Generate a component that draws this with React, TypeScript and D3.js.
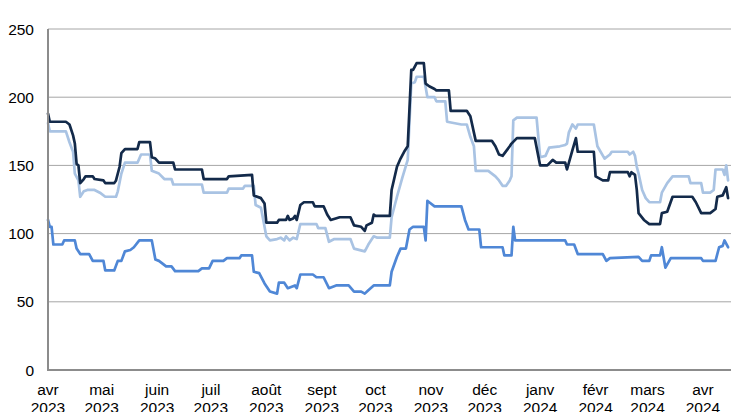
import { useEffect, useRef } from 'react';
import * as d3 from 'd3';

type Pt = [string, number];

// x-axis ticks (first of each month)
const monthLabels = ['avr', 'mai', 'juin', 'juil', 'août', 'sept', 'oct', 'nov', 'déc', 'janv', 'févr', 'mars', 'avr'];
const yearLabels = ['2023', '2023', '2023', '2023', '2023', '2023', '2023', '2023', '2023', '2024', '2024', '2024', '2024'];
const yTicks = [0, 50, 100, 150, 200, 250];

const seriesDark: Pt[] = [
  ['2023-04-01', 188], ['2023-04-02', 182], ['2023-04-11', 182], ['2023-04-13', 180], ['2023-04-15', 172],
  ['2023-04-16', 166], ['2023-04-17', 151], ['2023-04-18', 150], ['2023-04-19', 137], ['2023-04-21', 140],
  ['2023-04-22', 142], ['2023-04-26', 142], ['2023-04-27', 140], ['2023-05-02', 139], ['2023-05-03', 137],
  ['2023-05-08', 137], ['2023-05-09', 139], ['2023-05-11', 149], ['2023-05-12', 159], ['2023-05-14', 162],
  ['2023-05-21', 162], ['2023-05-22', 167], ['2023-05-28', 167], ['2023-05-29', 156], ['2023-05-31', 155],
  ['2023-06-02', 152], ['2023-06-10', 152], ['2023-06-11', 147], ['2023-06-26', 147], ['2023-06-27', 140],
  ['2023-07-10', 140], ['2023-07-11', 142], ['2023-07-24', 143], ['2023-07-25', 128], ['2023-07-29', 126],
  ['2023-07-31', 122], ['2023-08-01', 108], ['2023-08-07', 108], ['2023-08-08', 110], ['2023-08-12', 110],
  ['2023-08-13', 113], ['2023-08-14', 110], ['2023-08-16', 111], ['2023-08-17', 113], ['2023-08-18', 110],
  ['2023-08-20', 121], ['2023-08-22', 123], ['2023-08-27', 123], ['2023-08-28', 120], ['2023-09-02', 120],
  ['2023-09-04', 114], ['2023-09-06', 110], ['2023-09-11', 112], ['2023-09-17', 112], ['2023-09-19', 106],
  ['2023-09-23', 105], ['2023-09-25', 102], ['2023-09-26', 106], ['2023-09-29', 108], ['2023-09-30', 114],
  ['2023-10-01', 113], ['2023-10-09', 113], ['2023-10-10', 132], ['2023-10-13', 149], ['2023-10-15', 155],
  ['2023-10-17', 160], ['2023-10-19', 164], ['2023-10-21', 220], ['2023-10-22', 220], ['2023-10-24', 225],
  ['2023-10-28', 225], ['2023-10-29', 210], ['2023-10-31', 208], ['2023-11-03', 206], ['2023-11-04', 205],
  ['2023-11-11', 205], ['2023-11-12', 190], ['2023-11-21', 190], ['2023-11-23', 186], ['2023-11-26', 168],
  ['2023-12-05', 168], ['2023-12-07', 164], ['2023-12-09', 158], ['2023-12-11', 157], ['2023-12-15', 164],
  ['2023-12-16', 166], ['2023-12-19', 170], ['2023-12-29', 170], ['2024-01-01', 150], ['2024-01-05', 150],
  ['2024-01-08', 154], ['2024-01-10', 152], ['2024-01-15', 152], ['2024-01-16', 147], ['2024-01-19', 161],
  ['2024-01-21', 170], ['2024-01-22', 160], ['2024-01-31', 160], ['2024-02-01', 142], ['2024-02-05', 139],
  ['2024-02-08', 139], ['2024-02-09', 145], ['2024-02-19', 145], ['2024-02-20', 142], ['2024-02-21', 145],
  ['2024-02-23', 143], ['2024-02-24', 132], ['2024-02-25', 115], ['2024-02-28', 110], ['2024-03-02', 107],
  ['2024-03-08', 107], ['2024-03-09', 115], ['2024-03-12', 116], ['2024-03-15', 127], ['2024-03-26', 127],
  ['2024-03-28', 123], ['2024-03-31', 115], ['2024-04-05', 115], ['2024-04-08', 118], ['2024-04-09', 127],
  ['2024-04-12', 128], ['2024-04-14', 134], ['2024-04-15', 126],
];

const seriesLight: Pt[] = [
  ['2023-04-01', 181], ['2023-04-02', 175], ['2023-04-11', 175], ['2023-04-13', 167], ['2023-04-15', 160],
  ['2023-04-16', 144], ['2023-04-18', 139], ['2023-04-19', 127], ['2023-04-21', 131], ['2023-04-23', 132],
  ['2023-04-27', 132], ['2023-04-30', 130], ['2023-05-03', 127], ['2023-05-09', 127], ['2023-05-10', 131],
  ['2023-05-12', 144], ['2023-05-14', 152], ['2023-05-21', 152], ['2023-05-23', 158], ['2023-05-28', 158],
  ['2023-05-29', 146], ['2023-06-02', 144], ['2023-06-05', 140], ['2023-06-09', 140], ['2023-06-10', 136],
  ['2023-06-26', 136], ['2023-06-27', 130], ['2023-07-10', 130], ['2023-07-11', 133], ['2023-07-19', 133],
  ['2023-07-20', 135], ['2023-07-25', 135], ['2023-07-26', 121], ['2023-07-29', 119], ['2023-07-31', 105],
  ['2023-08-01', 98], ['2023-08-03', 95], ['2023-08-07', 96], ['2023-08-09', 97], ['2023-08-11', 95],
  ['2023-08-12', 98], ['2023-08-14', 95], ['2023-08-16', 97], ['2023-08-18', 96], ['2023-08-20', 107],
  ['2023-08-29', 107], ['2023-08-30', 104], ['2023-09-03', 104], ['2023-09-05', 94], ['2023-09-08', 96],
  ['2023-09-17', 96], ['2023-09-19', 89], ['2023-09-25', 87], ['2023-09-27', 92], ['2023-09-30', 98],
  ['2023-10-02', 97], ['2023-10-09', 97], ['2023-10-10', 112], ['2023-10-13', 127], ['2023-10-16', 141],
  ['2023-10-19', 154], ['2023-10-21', 210], ['2023-10-23', 211], ['2023-10-24', 215], ['2023-10-28', 215],
  ['2023-10-30', 200], ['2023-11-03', 200], ['2023-11-04', 197], ['2023-11-09', 197], ['2023-11-10', 182],
  ['2023-11-18', 180], ['2023-11-21', 180], ['2023-11-23', 171], ['2023-11-25', 164], ['2023-11-26', 146],
  ['2023-12-03', 146], ['2023-12-05', 144], ['2023-12-07', 142], ['2023-12-09', 139], ['2023-12-11', 135],
  ['2023-12-13', 135], ['2023-12-15', 139], ['2023-12-16', 142], ['2023-12-17', 183], ['2023-12-19', 185],
  ['2023-12-30', 185], ['2024-01-01', 156], ['2024-01-04', 157], ['2024-01-06', 163], ['2024-01-12', 164],
  ['2024-01-15', 165], ['2024-01-16', 166], ['2024-01-17', 174], ['2024-01-19', 180], ['2024-01-21', 177],
  ['2024-01-22', 180], ['2024-01-31', 180], ['2024-02-02', 164], ['2024-02-06', 155], ['2024-02-09', 158],
  ['2024-02-10', 160], ['2024-02-19', 160], ['2024-02-20', 158], ['2024-02-22', 160], ['2024-02-23', 157],
  ['2024-02-24', 149], ['2024-02-25', 144], ['2024-02-27', 132], ['2024-02-29', 126], ['2024-03-02', 123],
  ['2024-03-08', 123], ['2024-03-09', 130], ['2024-03-12', 137], ['2024-03-15', 142], ['2024-03-24', 142],
  ['2024-03-25', 137], ['2024-03-31', 137], ['2024-04-01', 130], ['2024-04-05', 130], ['2024-04-07', 132],
  ['2024-04-08', 147], ['2024-04-12', 147], ['2024-04-13', 143], ['2024-04-14', 150], ['2024-04-15', 139],
];

const seriesMid: Pt[] = [
  ['2023-04-01', 110], ['2023-04-02', 105], ['2023-04-03', 105], ['2023-04-04', 92], ['2023-04-09', 92],
  ['2023-04-10', 95], ['2023-04-16', 95], ['2023-04-17', 89], ['2023-04-19', 85], ['2023-04-24', 85],
  ['2023-04-26', 80], ['2023-05-02', 80], ['2023-05-03', 73], ['2023-05-08', 73], ['2023-05-10', 80],
  ['2023-05-12', 80], ['2023-05-14', 87], ['2023-05-17', 88], ['2023-05-19', 90], ['2023-05-22', 95],
  ['2023-05-29', 95], ['2023-05-31', 81], ['2023-06-02', 80], ['2023-06-04', 78], ['2023-06-06', 76],
  ['2023-06-09', 76], ['2023-06-11', 72.5], ['2023-06-24', 72.5], ['2023-06-26', 74.5], ['2023-06-30', 74.5],
  ['2023-07-02', 80], ['2023-07-08', 80], ['2023-07-10', 82], ['2023-07-17', 82], ['2023-07-18', 84],
  ['2023-07-24', 84], ['2023-07-25', 72], ['2023-07-28', 71], ['2023-07-31', 63.5], ['2023-08-03', 57.5],
  ['2023-08-07', 56], ['2023-08-08', 64], ['2023-08-11', 64], ['2023-08-13', 60], ['2023-08-17', 62],
  ['2023-08-18', 60], ['2023-08-20', 70], ['2023-08-27', 70], ['2023-08-29', 68], ['2023-09-02', 68],
  ['2023-09-05', 60], ['2023-09-09', 62], ['2023-09-16', 62], ['2023-09-19', 57.5], ['2023-09-23', 57.5],
  ['2023-09-25', 56], ['2023-09-27', 58.5], ['2023-09-30', 62], ['2023-10-09', 62], ['2023-10-10', 72],
  ['2023-10-13', 83], ['2023-10-15', 89], ['2023-10-18', 89], ['2023-10-20', 103], ['2023-10-22', 105],
  ['2023-10-28', 105], ['2023-10-29', 95], ['2023-10-30', 124], ['2023-10-31', 123], ['2023-11-03', 120],
  ['2023-11-18', 120], ['2023-11-20', 110], ['2023-11-22', 103], ['2023-11-28', 103], ['2023-11-29', 90],
  ['2023-12-11', 90], ['2023-12-12', 84], ['2023-12-16', 84], ['2023-12-17', 105], ['2023-12-18', 95],
  ['2024-01-15', 95], ['2024-01-16', 92], ['2024-01-20', 92], ['2024-01-22', 85], ['2024-02-05', 85],
  ['2024-02-07', 80], ['2024-02-09', 82], ['2024-02-25', 83], ['2024-02-27', 80], ['2024-03-02', 80],
  ['2024-03-03', 84], ['2024-03-08', 84], ['2024-03-09', 90], ['2024-03-11', 75], ['2024-03-14', 82],
  ['2024-03-31', 82], ['2024-04-01', 80], ['2024-04-08', 80], ['2024-04-10', 90], ['2024-04-12', 91],
  ['2024-04-13', 95], ['2024-04-15', 90],
];

const lines = [
  { data: seriesLight, color: '#a9c3e3' },
  { data: seriesMid, color: '#4f87d6' },
  { data: seriesDark, color: '#132a4a' },
];

export default function App() {
  const ref = useRef<SVGSVGElement | null>(null);

  useEffect(() => {
    if (!ref.current) return;
    const svg = d3.select(ref.current);
    svg.selectAll('*').remove();

    const width = 731;
    const left = 48;
    const top = 29;
    const bottom = 370;
    const parse = d3.timeParse('%Y-%m-%d');

    const start = parse('2023-04-01') as Date;
    const lastTick = parse('2024-04-01') as Date;
    const x = d3.scaleTime().domain([start, lastTick]).range([left, 703]);
    const y = d3.scaleLinear().domain([0, 250]).range([bottom, top]);

    const font = '"Liberation Sans", Arial, sans-serif';
    const fontSize = 15.5;

    // gridlines
    svg.append('g')
      .selectAll('line')
      .data(yTicks.filter((t) => t > 0))
      .join('line')
      .attr('x1', left)
      .attr('x2', width)
      .attr('y1', (d) => y(d))
      .attr('y2', (d) => y(d))
      .attr('stroke', '#a6a6a6')
      .attr('stroke-width', 1);

    // y labels
    svg.append('g')
      .selectAll('text')
      .data(yTicks)
      .join('text')
      .attr('x', 34)
      .attr('y', (d) => y(d) + 5.5)
      .attr('text-anchor', 'end')
      .attr('font-family', font)
      .attr('font-size', fontSize)
      .attr('fill', '#000')
      .text((d) => d);

    // x labels (the year line runs off the bottom edge, as in the source)
    const months = d3.timeMonth.range(start, d3.timeMonth.offset(lastTick, 1));
    const xl = svg.append('g')
      .attr('font-family', font)
      .attr('font-size', fontSize)
      .attr('text-anchor', 'middle')
      .attr('fill', '#000');
    months.forEach((m, i) => {
      xl.append('text').attr('x', x(m)).attr('y', 395).text(monthLabels[i]);
      xl.append('text').attr('x', x(m)).attr('y', 413).text(yearLabels[i]);
    });

    // series
    const line = d3.line<Pt>()
      .x((d) => x(parse(d[0]) as Date))
      .y((d) => y(d[1]));

    lines.forEach((s) => {
      svg.append('path')
        .attr('d', line(s.data) as string)
        .attr('fill', 'none')
        .attr('stroke', s.color)
        .attr('stroke-width', 2.7)
        .attr('stroke-linejoin', 'round')
        .attr('stroke-linecap', 'round');
    });

    // axes
    svg.append('path')
      .attr('d', `M${left},${top}V${bottom}H${width}`)
      .attr('fill', 'none')
      .attr('stroke', '#8c8c8c')
      .attr('stroke-width', 2);
  }, []);

  return (
    <svg
      ref={ref}
      width={731}
      height={412}
      viewBox="0 0 731 412"
      style={{ position: 'absolute', left: 0, top: 0, background: '#fff' }}
    />
  );
}
